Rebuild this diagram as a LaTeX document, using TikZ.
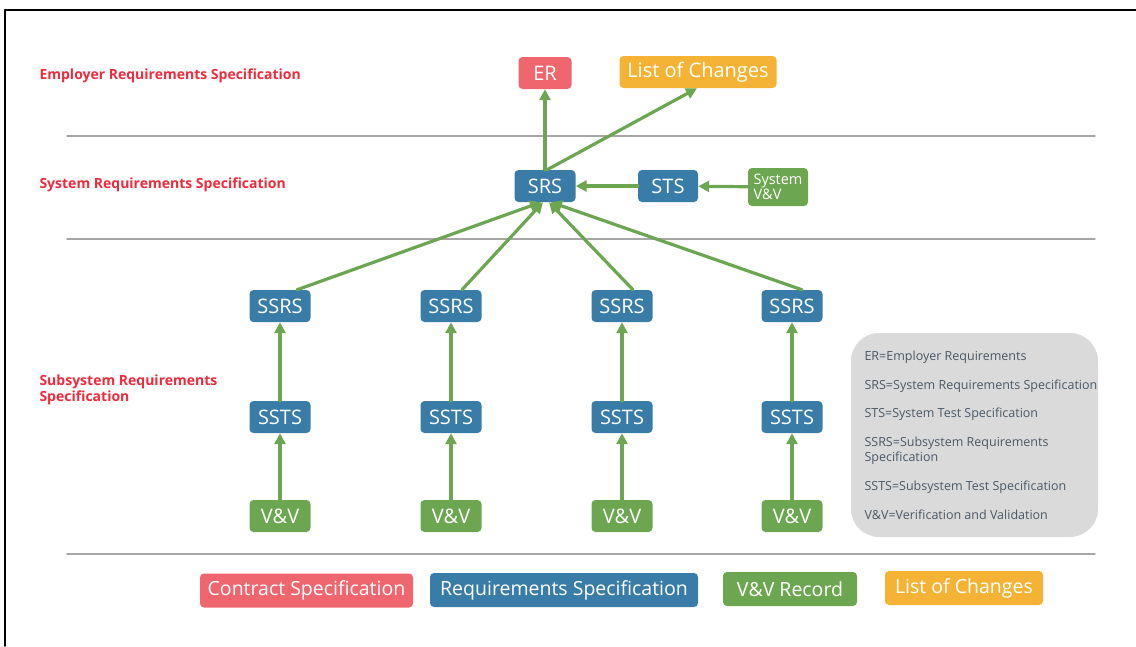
\documentclass[tikz,border=0pt]{standalone}
\usepackage{fontspec}
\setmainfont{Open Sans}
\usetikzlibrary{arrows.meta}
\definecolor{reqblue}{HTML}{3A7CA8}
\definecolor{vvgreen}{HTML}{6DA651}
\definecolor{erred}{HTML}{EF666E}
\definecolor{locorange}{HTML}{F5B335}
\definecolor{labred}{HTML}{EE2A3C}
\definecolor{sepgray}{HTML}{A6A6A6}
\definecolor{keyfill}{HTML}{DADADA}
\definecolor{keytextgray}{HTML}{4B5866}
\begin{document}
\begin{tikzpicture}[x=1pt, y=-1pt, >={Triangle[length=11pt,width=11pt]}, line join=round, line cap=round,
	box/.style={rounded corners=4pt, text=white, inner sep=2pt, minimum height=32pt, font=\fontsize{20}{22}\selectfont},
	reqbox/.style={box, fill=reqblue, minimum width=61pt},
	vvbox/.style={box, fill=vvgreen, minimum width=61pt},
	erbox/.style={box, fill=erred, minimum width=53pt},
	locbox/.style={box, fill=locorange, minimum width=157pt},
	keybox/.style={box, minimum height=34pt, font=\fontsize{19.5}{21}\selectfont},
	link/.style={->, draw=vvgreen, line width=3.2pt},
	layer/.style={draw=sepgray, line width=1.4pt},
	layerlabel/.style={anchor=west, text=labred, align=left, font=\bfseries\fontsize{14}{16.5}\selectfont},
	keytext/.style={anchor=west, text=keytextgray, align=left, font=\fontsize{12.5}{14.5}\selectfont}]
	\useasboundingbox (0,0) rectangle (1136,646);
	\draw[line width=1.5pt] (5,646) -- (5,10) -- (1136,10);
	% layers
	\draw[layer] (67,136) -- (1095,136);
	\draw[layer] (67,239) -- (1095,239);
	\draw[layer] (67,554) -- (1095,554);
	\node[layerlabel] (lab1) at (36,76) {Employer Requirements Specification};
	\node[layerlabel] (lab2) at (36,185) {System Requirements Specification};
	\node[layerlabel] (lab3) at (36,390) {Subsystem Requirements\\Specification};
	% top levels
	\node[erbox] (er) at (545,73) {ER};
	\node[locbox] (loc) at (698,72) {List of Changes};
	\node[reqbox] (srs) at (545,186) {SRS};
	\node[reqbox, minimum width=60pt] (sts) at (668,186) {STS};
	\node[vvbox, minimum width=60pt, minimum height=38pt, inner sep=1pt, align=left, font=\fontsize{14.5}{14.5}\selectfont] (sysvv) at (778,187) {System\\V\&V};
	\draw[link] (srs) -- (er);
	\draw[link] ([xshift=2pt]srs.north) -- ([xshift=-1pt]loc.south);
	\draw[link] (sts) -- (srs);
	\draw[link] (sysvv) -- (sts);
	% subsystems
	\foreach \x/\i in {280/1,451/2,622/3,792/4}{
		\node[reqbox] (ssrs\i) at (\x,306) {SSRS};
		\node[reqbox] (ssts\i) at (\x,417) {SSTS};
		\node[vvbox] (vv\i) at (\x,516) {V\&V};
		\draw[link] (vv\i) -- (ssts\i);
		\draw[link] (ssts\i) -- (ssrs\i);
	}
	\draw[link] ([xshift=17pt]ssrs1.north) -- ([xshift=-4pt]srs.south);
	\draw[link] ([xshift=11pt]ssrs2.north) -- ([xshift=-2pt]srs.south);
	\draw[link] ([xshift=11pt]ssrs3.north) -- ([xshift=4pt]srs.south);
	\draw[link] ([xshift=10pt]ssrs4.north) -- ([xshift=6pt]srs.south);
	% abbreviations
	\node[fill=keyfill, rounded corners=28pt, minimum width=247pt, minimum height=204pt] (key) at (974.5,435) {};
	\node[keytext] (k1) at (861,357) {ER=Employer Requirements};
	\node[keytext] (k2) at (861,386) {SRS=System Requirements Specification};
	\node[keytext] (k3) at (861,414) {STS=System Test Specification};
	\node[keytext] (k4) at (861,450.5) {SSRS=Subsystem Requirements\\Specification};
	\node[keytext] (k5) at (861,487) {SSTS=Subsystem Test Specification};
	\node[keytext] (k6) at (861,515) {V\&V=Verification and Validation};
	% colour key
	\node[keybox, fill=erred, minimum width=213pt] (kcs) at (306.5,590.5) {Contract Specification};
	\node[keybox, fill=reqblue, minimum width=268pt] (krs) at (564,590) {Requirements Specification};
	\node[keybox, fill=vvgreen, minimum width=134pt] (kvv) at (790,589) {V\&V Record};
	\node[keybox, fill=locorange, minimum width=158pt] (klc) at (964,588) {List of Changes};
\end{tikzpicture}
\end{document}
